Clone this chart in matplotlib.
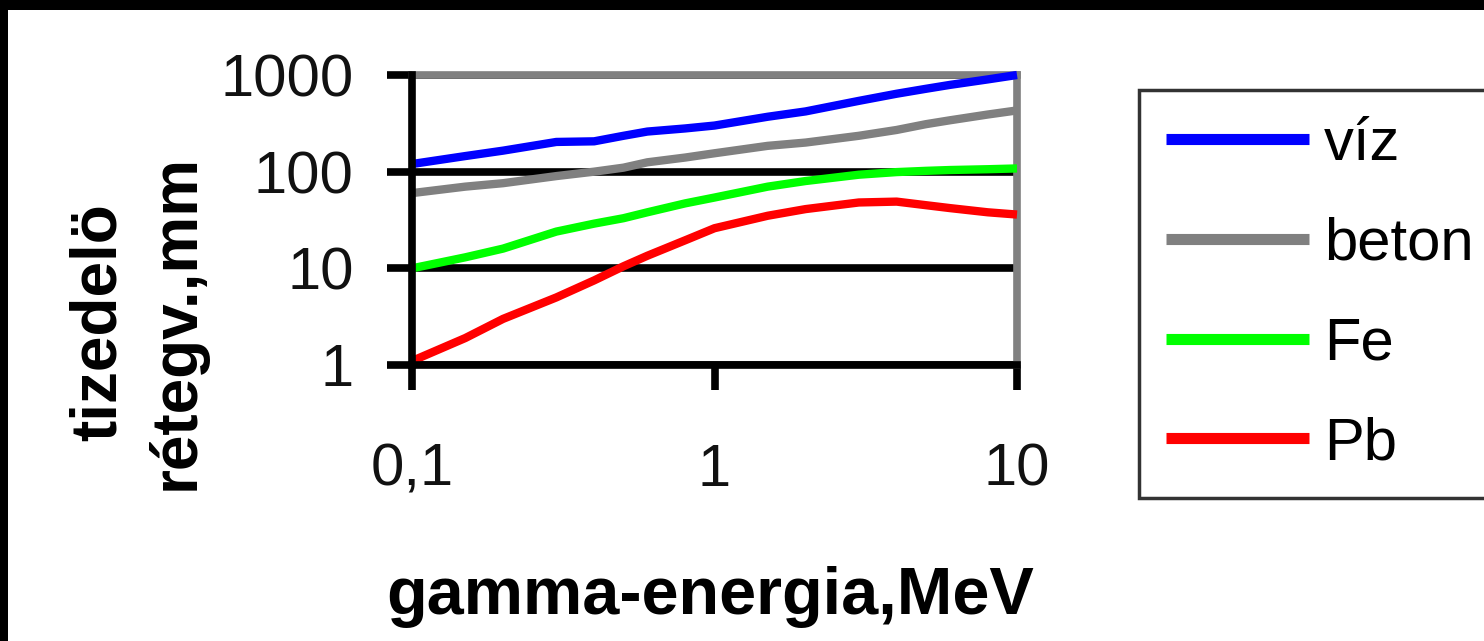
import matplotlib
matplotlib.use("Agg")
import matplotlib.pyplot as plt
from matplotlib.patches import Rectangle

plt.rcParams['font.family'] = ['Liberation Sans', 'DejaVu Sans']

# tizedelő rétegvastagság különböző anyagokra (mm), gamma-energia függvényében (MeV)
energia = [0.1, 0.15, 0.2, 0.3, 0.4, 0.5, 0.6, 0.8, 1, 1.5, 2, 3, 4, 5, 6, 8, 10]
viz = [120, 145, 165, 203, 206, 235, 260, 280, 300, 370, 420, 540, 640, 720, 790, 900, 1000]
beton = [60, 70, 76, 90, 100, 110, 125, 140, 155, 185, 200, 235, 270, 310, 340, 390, 430]
fe = [10, 13, 16, 24, 29, 33, 38, 47, 54, 70, 80, 93, 99, 102, 104, 106, 108]
pb = [1.1, 1.9, 3.0, 5.0, 7.5, 10.5, 13.5, 19.5, 26, 35, 41, 48, 49, 45, 42, 38, 36]

nevek = ["víz", "beton", "Fe", "Pb"]
szinek = ["#0000ff", "#808080", "#00ff00", "#ff0000"]

x_ticks = [0.1, 1, 10]
x_ticklabels = ["0,1", "1", "10"]
y_ticks = [1, 10, 100, 1000]
y_ticklabels = ["1", "10", "100", "1000"]

W, H = 1484, 641
fig = plt.figure(figsize=(W / 100, H / 100), dpi=100)
fig.patch.set_facecolor("white")

# fekete keret a kép tetején és bal oldalán
fig.patches.append(Rectangle((0, 1 - 10 / H), 1, 10 / H, transform=fig.transFigure,
                             facecolor="black", edgecolor="none", zorder=0))
fig.patches.append(Rectangle((0, 0), 8 / W, 1, transform=fig.transFigure,
                             facecolor="black", edgecolor="none", zorder=0))

ax = fig.add_axes([412 / W, 1 - 365 / H, (1017 - 412) / W, (365 - 75) / H])
ax.set_xscale("log")
ax.set_yscale("log")
ax.set_xlim(0.1, 10)
ax.set_ylim(1, 1000)

for adat, nev, szin in zip([viz, beton, fe, pb], nevek, szinek):
    ax.plot(energia, adat, color=szin, lw=6, label=nev, clip_on=False,
            solid_joinstyle="round", solid_capstyle="butt", zorder=3)

# rácsvonalak
ax.minorticks_off()
ax.yaxis.grid(True, color="black", lw=5.5)
ax.xaxis.grid(False)
ax.set_axisbelow(True)

ax.spines["left"].set_color("black")
ax.spines["bottom"].set_color("black")
ax.spines["top"].set_color("#808080")
ax.spines["right"].set_color("#808080")
for s in ax.spines.values():
    s.set_linewidth(5.5)
ax.spines["left"].set_zorder(4)
ax.spines["bottom"].set_zorder(4)

ax.set_xticks(x_ticks)
ax.set_xticklabels(x_ticklabels)
ax.set_yticks(y_ticks)
ax.set_yticklabels(y_ticklabels)
ax.tick_params(axis="both", direction="out", length=18, width=5.5, color="black",
               labelsize=43, labelcolor="#111111")
ax.tick_params(axis="y", pad=24)
ax.tick_params(axis="x", pad=38)

fig.text(710 / W, 1 - 597 / H, "gamma-energia,MeV", ha="center", va="center",
         fontsize=48, fontweight="bold")
fig.text(138 / W, 1 - 322 / H, "tizedelö\nrétegv.,mm", ha="center", va="center",
         rotation=90, fontsize=46, fontweight="bold", linespacing=1.35,
         multialignment="center")

leg = fig.legend(loc="upper left", bbox_to_anchor=(1139 / W, 1 - 90 / H),
                 fontsize=43, frameon=True, fancybox=False, handlelength=2.4,
                 handletextpad=0.25, borderpad=0.45, labelspacing=0.75,
                 borderaxespad=0)
leg.get_frame().set_edgecolor("black")
leg.get_frame().set_linewidth(2.5)
for ln in leg.get_lines():
    ln.set_linewidth(8)

fig.savefig("out.png", dpi=100, facecolor="white")
